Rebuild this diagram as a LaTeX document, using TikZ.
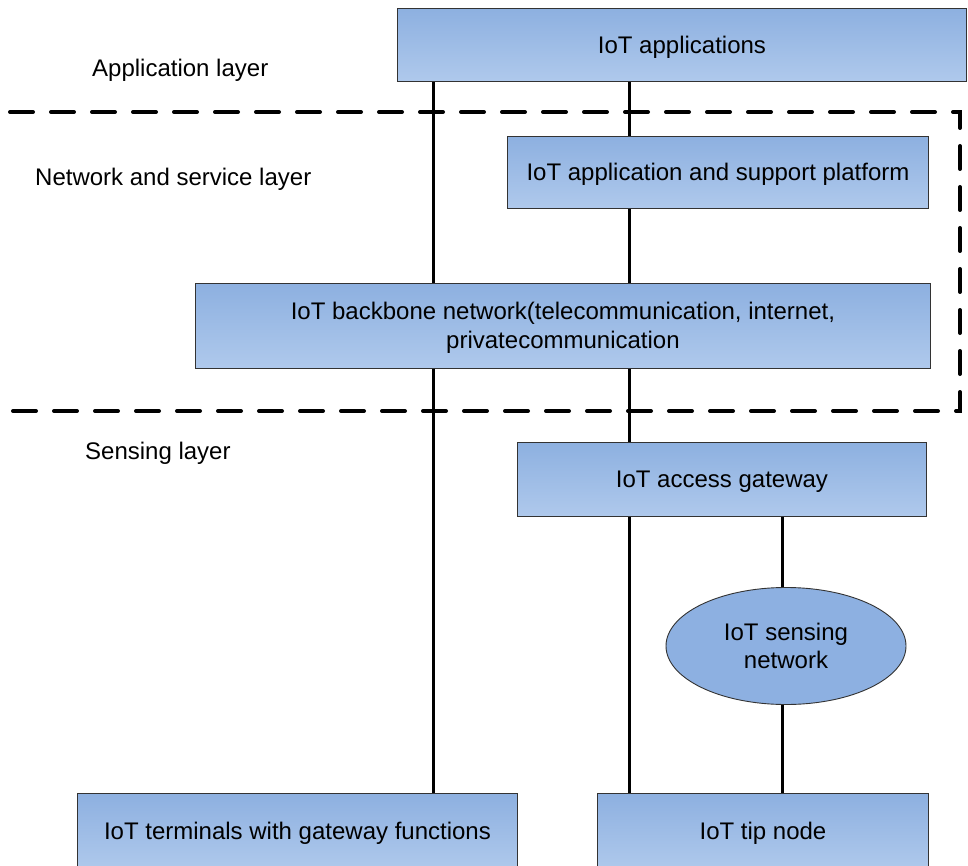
\documentclass[tikz,border=0pt]{standalone}
\usepackage{fontspec}
\setmainfont{Liberation Sans}
\usetikzlibrary{shapes.geometric}

\definecolor{boxtop}{HTML}{8DB0E0}
\definecolor{boxbot}{HTML}{AFC9EC}
\definecolor{ellfill}{HTML}{8DB0E1}

\tikzset{
  box/.style={draw=black!80, line width=0.9pt, top color=boxtop, bottom color=boxbot,
    anchor=north west, align=center, inner sep=0pt, text depth=1pt,
    font=\fontsize{24}{29}\selectfont},
  senscloud/.style={ellipse, draw=black!80, line width=0.9pt, fill=ellfill, inner sep=0pt,
    align=center, font=\fontsize{24}{28}\selectfont},
  layerlabel/.style={anchor=west, inner sep=0pt, font=\fontsize{24}{28}\selectfont},
  link/.style={line width=3pt},
  layerline/.style={line width=4pt, line cap=round, dash pattern=on 23pt off 18pt},
}

\begin{document}
\begin{tikzpicture}[x=1pt, y=-1pt]
    \clip (0,0) rectangle (968,866);
    \fill[white] (0,0) rectangle (968,866);

    % layer borders
    \draw[layerline] (10,112) -- (960,112) -- (960,411) -- (10,411);

    % layer names
    \node[layerlabel] (applayer) at (92,70) {Application layer};
    \node[layerlabel] (netlayer) at (35,179) {Network and service layer};
    \node[layerlabel] (senslayer) at (85,453) {Sensing layer};

    % connector columns
    \coordinate (colA) at (433,0);
    \coordinate (colB) at (629,0);
    \coordinate (colC) at (782,0);

    \node[box, minimum width=569pt, minimum height=73pt] (apps) at (397,8) {IoT applications};
    \node[box, minimum width=421pt, minimum height=72pt] (platform) at (507,136) {IoT application and support platform};
    \node[box, minimum width=735pt, minimum height=85pt] (backbone) at (195,283) {IoT backbone network(telecommunication, internet,\\privatecommunication};
    \node[box, minimum width=409pt, minimum height=74pt] (gateway) at (517,442) {IoT access gateway};
    \node[senscloud, minimum width=240pt, minimum height=117pt] (sensnet) at (786,646) {IoT sensing\\network};
    \node[box, minimum width=440pt, minimum height=76pt] (terminals) at (77,793) {IoT terminals with gateway functions};
    \node[box, minimum width=331pt, minimum height=76pt] (tipnode) at (597,793) {IoT tip node};

    \draw[link] (apps.south -| colA) -- (backbone.north -| colA);
    \draw[link] (apps.south -| colB) -- (platform.north -| colB);
    \draw[link] (platform.south -| colB) -- (backbone.north -| colB);
    \draw[link] (backbone.south -| colB) -- (gateway.north -| colB);
    \draw[link] (gateway.south -| colB) -- (tipnode.north -| colB);
    \draw[link] (backbone.south -| colA) -- (terminals.north -| colA);
    \draw[link] (gateway.south -| colC) -- (sensnet.north -| colC);
    \draw[link] (sensnet.south -| colC) -- (tipnode.north -| colC);
\end{tikzpicture}
\end{document}
